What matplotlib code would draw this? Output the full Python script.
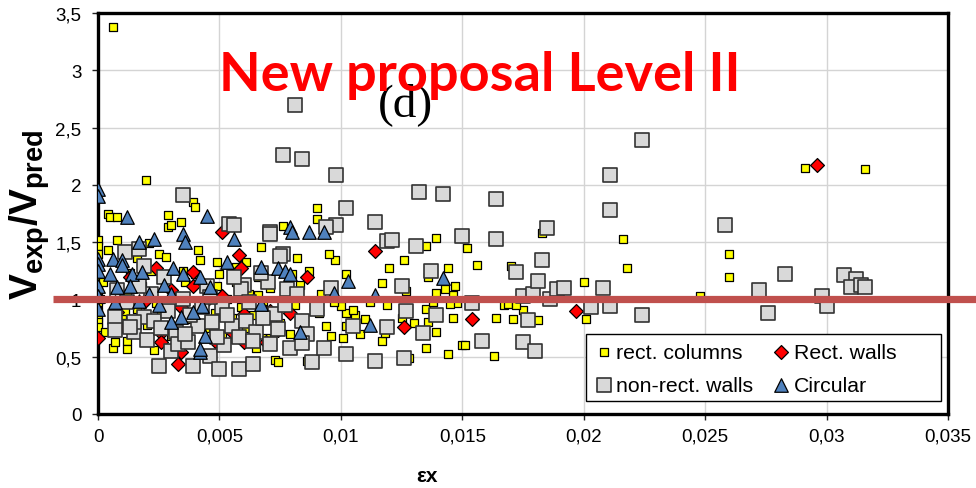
import matplotlib
matplotlib.use("Agg")
import matplotlib.pyplot as plt
from matplotlib.patches import Rectangle
from matplotlib.ticker import FuncFormatter

plt.rcParams['font.family'] = ['Liberation Sans', 'DejaVu Sans']
plt.rcParams['mathtext.fontset'] = 'custom'
plt.rcParams['mathtext.rm'] = 'Liberation Sans'
plt.rcParams['mathtext.bf'] = 'Liberation Sans:bold'

# ---- data: strain ex and ratio Vexp/Vpred per specimen type ----
rect_columns_x = [
    0.00062, 0.00198, 0.0291, 0.0316, 0.0216, 0.0218, 0.0260, 0.0260, 0.0248,
    0.0200, 0.0201, 0.0183, 0.0181, 0.0170, 0.0171, 0.0175, 0.0167, 0.0169, 0.0172, 0.0164, 0.0163,
    0.0156, 0.0152, 0.0150, 0.0151, 0.0146, 0.0144, 0.0144, 0.0147, 0.0146, 0.0148, 0.0145, 0.0143,
    0.0139, 0.0135, 0.0136, 0.0139, 0.0135, 0.0136, 0.0139, 0.0135, 0.0138, 0.0126, 0.0120, 0.0117,
    0.0127, 0.0119, 0.0125, 0.0130, 0.0128, 0.0117, 0.0118, 0.0112, 0.0110, 0.0108, 0.0102, 0.0102,
    0.0106, 0.0105, 0.0102, 0.0101, 0.0100, 0.00975, 0.0096,
    0.0090, 0.0090, 0.0076, 0.0082, 0.0039, 0.0040, 0.0034, 0.0041, 0.0042, 0.0049, 0.0067, 0.0061,
    0.0004, 0.0005, 0.0008, 0.0029, 0.0029, 0.0030, 0.0, 0.0, 0.0008, 0.0004, 0.0021, 0.0025, 0.0028, 0.0016,
    0.0, 0.0, 0.0, 0.0, 0.0, 0.0, 0.0, 0.0, 0.0, 0.0003, 0.0002, 0.0001,
    0.0006, 0.0007, 0.0010, 0.0012, 0.0013, 0.0016, 0.0018, 0.0020, 0.0022, 0.0024, 0.0026, 0.0028,
    0.0030, 0.0032, 0.0034, 0.0036, 0.0038, 0.0040, 0.0042, 0.0044, 0.0046, 0.0048, 0.0050, 0.0051,
    0.0053, 0.0055, 0.0057, 0.0059, 0.0061, 0.0062, 0.0064, 0.0066, 0.0068, 0.0069, 0.0071, 0.0073,
    0.0075, 0.0077, 0.0079, 0.0081, 0.0083, 0.0085, 0.0086, 0.0087, 0.0089, 0.0091, 0.0092, 0.0094,
    0.0095, 0.0097, 0.0073, 0.0065, 0.0044, 0.0023, 0.0011, 0.0015, 0.0057, 0.0035, 0.0049, 0.0080,
    0.0066, 0.0012, 0.0012, 0.0074,
]
rect_columns_y = [
    3.38, 2.04, 2.15, 2.14, 1.53, 1.27, 1.40, 1.20, 1.03,
    1.15, 0.83, 1.58, 0.82, 1.29, 0.83, 0.91, 0.95, 0.96, 0.95, 0.84, 0.51,
    1.30, 1.45, 0.60, 0.60, 0.84, 0.52, 1.27, 1.12, 1.04, 0.97, 0.96, 1.09,
    1.54, 1.47, 1.20, 1.06, 0.92, 0.80, 0.72, 0.58, 0.98, 1.34, 1.27, 1.14,
    1.07, 0.95, 0.84, 0.79, 0.49, 0.64, 0.71, 0.98, 0.83, 0.70, 1.22, 0.88,
    0.86, 0.91, 0.77, 0.66, 0.94, 1.34, 0.68,
    1.80, 1.70, 1.64, 1.36, 1.85, 1.81, 1.68, 1.43, 1.34, 1.33, 1.46, 1.33,
    1.75, 1.72, 1.72, 1.74, 1.63, 1.65, 1.52, 1.47, 1.52, 1.43, 1.49, 1.40, 1.37, 1.36,
    1.40, 1.30, 1.20, 1.08, 0.98, 0.90, 0.84, 0.80, 0.76, 0.72, 1.15, 1.00,
    0.58, 0.63, 0.86, 1.05, 1.23, 0.92, 1.12, 0.78, 1.25, 0.97, 0.88, 1.18,
    0.68, 1.03, 0.60, 1.15, 0.83, 1.22, 0.95, 0.75, 1.08, 0.88, 1.22, 0.69,
    1.00, 0.84, 1.15, 0.93, 0.75, 1.05, 0.86, 1.20, 0.97, 0.66, 1.10, 0.90,
    0.79, 1.02, 0.70, 0.95, 1.13, 0.84, 0.46, 1.25, 0.92, 0.88, 1.05, 0.77,
    1.40, 0.98, 0.47, 0.58, 0.52, 0.56, 0.90, 0.74, 1.28, 1.25, 1.12, 1.22,
    1.04, 0.64, 0.57, 0.45,
]

non_rect_walls_x = [
    0.0081, 0.0076, 0.0084, 0.0098, 0.0102, 0.0132, 0.0142, 0.0164, 0.0211, 0.0224, 0.0211, 0.0258,
    0.0283, 0.0272, 0.0298, 0.0307, 0.0312, 0.0310, 0.0314, 0.0316, 0.0208, 0.0211, 0.0224, 0.0276, 0.0300,
    0.0098, 0.0114, 0.0119, 0.0121, 0.0131, 0.0137, 0.0125, 0.0127, 0.0139, 0.0134, 0.0119, 0.0105,
    0.0102, 0.0114, 0.0126, 0.0150, 0.0164, 0.0154, 0.0158, 0.0172, 0.0175, 0.0180, 0.0177, 0.0175,
    0.0179, 0.0181, 0.0183, 0.0185, 0.0186, 0.0189, 0.0192, 0.0203,
    0.0007, 0.0007, 0.0011, 0.0017, 0.0019, 0.0019, 0.0015, 0.0020, 0.0023, 0.0027, 0.0025, 0.0030,
    0.0032, 0.0033, 0.0037, 0.0039, 0.0041, 0.0046, 0.0050, 0.0052, 0.0049, 0.0054, 0.0056, 0.0060,
    0.0059, 0.0051, 0.0055, 0.0058, 0.0061, 0.0065, 0.0064, 0.0058, 0.0064, 0.0071, 0.0076, 0.0078,
    0.0073, 0.0071, 0.0079, 0.0084, 0.0088, 0.0035, 0.0056, 0.0094, 0.0071, 0.0075,
    0.0008, 0.0012, 0.0015, 0.0022, 0.0026, 0.0029, 0.0035, 0.0038, 0.0043, 0.0045, 0.0047, 0.0053,
    0.0062, 0.0068, 0.0070, 0.0074, 0.0077, 0.0082, 0.0086, 0.0090, 0.0093, 0.0096, 0.0036, 0.0013,
    0.0017, 0.0046, 0.0067, 0.0084,
]
non_rect_walls_y = [
    2.70, 2.26, 2.23, 2.09, 1.80, 1.94, 1.92, 1.88, 2.09, 2.39, 1.78, 1.65,
    1.22, 1.08, 1.03, 1.21, 1.18, 1.11, 1.13, 1.11, 1.10, 0.94, 0.86, 0.88, 0.94,
    1.65, 1.68, 1.51, 1.52, 1.47, 1.25, 1.12, 0.90, 0.86, 0.71, 0.76, 0.77,
    0.52, 0.46, 0.49, 1.55, 1.53, 0.97, 0.64, 1.24, 0.63, 0.55, 0.82, 1.03,
    1.05, 1.16, 1.34, 1.62, 1.00, 1.09, 1.10, 0.93,
    0.85, 0.73, 1.41, 1.44, 1.29, 0.85, 0.72, 0.65, 0.81, 1.20, 0.42, 0.55,
    0.72, 0.61, 0.63, 0.42, 0.77, 0.51, 0.39, 0.60, 0.67, 1.66, 1.65, 1.13,
    1.09, 0.93, 0.77, 0.67, 0.81, 0.72, 0.64, 0.39, 0.44, 1.59, 1.40, 1.09,
    0.87, 0.61, 0.58, 0.81, 0.45, 1.91, 1.20, 1.63, 1.57, 1.38,
    1.08, 0.98, 0.80, 1.05, 0.75, 0.90, 1.00, 0.86, 0.93, 1.12, 0.80, 0.86,
    0.98, 0.84, 1.15, 0.74, 0.95, 1.05, 0.70, 0.92, 0.58, 1.10, 0.70, 0.76,
    1.12, 1.02, 1.23, 0.62,
]

rect_walls_x = [
    0.0296, 0.0114, 0.0126, 0.0154, 0.0197,
    0.0, 0.0051, 0.0058, 0.0059, 0.0039, 0.0039, 0.0024, 0.0033, 0.0086, 0.0079, 0.0060, 0.0051,
    0.0030, 0.0026, 0.0026, 0.0034, 0.0034, 0.0048, 0.0060, 0.0069, 0.0074, 0.0069, 0.0083, 0.0009,
    0.0008, 0.0019, 0.0071, 0.0044, 0.0055, 0.0013,
]
rect_walls_y = [
    2.17, 1.42, 0.76, 0.83, 0.90,
    0.66, 1.59, 1.39, 1.27, 1.24, 1.12, 1.27, 0.44, 1.20, 0.88, 0.87, 1.03,
    1.08, 0.71, 0.63, 0.93, 0.54, 0.64, 0.63, 0.89, 0.73, 0.63, 0.64, 0.76,
    0.89, 0.98, 0.90, 0.98, 0.72, 1.20,
]

circular_x = [
    0.0, 0.0, 0.0012, 0.0045, 0.0035, 0.0036, 0.0023, 0.0056, 0.0017, 0.0079, 0.0080, 0.0087, 0.0093,
    0.0, 0.0, 0.0, 0.0, 0.0, 0.0, 0.0006, 0.0010, 0.0010, 0.0014, 0.0018, 0.0031, 0.0035, 0.0042,
    0.0046, 0.0053, 0.0067, 0.0074, 0.0077, 0.0079, 0.0027, 0.0008, 0.0013, 0.0017, 0.0030, 0.0043,
    0.0039, 0.0034, 0.0030, 0.0044, 0.0042, 0.0067, 0.0083, 0.0007, 0.0103, 0.0097, 0.0114, 0.0112,
    0.0142, 0.0042, 0.0021, 0.0005, 0.0025,
]
circular_y = [
    1.96, 1.90, 1.72, 1.73, 1.57, 1.50, 1.53, 1.53, 1.50, 1.63, 1.59, 1.59, 1.59,
    1.35, 1.31, 1.25, 1.12, 1.03, 0.92, 1.35, 1.34, 1.30, 1.22, 1.24, 1.27, 1.22, 1.20,
    1.11, 1.33, 1.28, 1.27, 1.25, 1.22, 1.13, 1.11, 1.12, 0.99, 1.05, 0.94,
    0.89, 0.85, 0.80, 0.68, 0.54, 0.96, 0.72, 0.98, 1.16, 1.06, 1.04, 0.78,
    1.19, 0.57, 1.05, 1.22, 0.95,
]

x_ticks = [0, 0.005, 0.01, 0.015, 0.02, 0.025, 0.03, 0.035]
y_ticks = [0, 0.5, 1, 1.5, 2, 2.5, 3, 3.5]
reference_ratio = 1.0

# ---- figure ----
W, H = 976, 489
fig = plt.figure(figsize=(W / 100, H / 100), dpi=100)
ax = fig.add_axes([98 / W, 74 / H, 850 / W, 401 / H])

ax.set_xlim(0, 0.035)
ax.set_ylim(0, 3.5)
ax.set_xticks(x_ticks)
ax.set_yticks(y_ticks)
comma = FuncFormatter(lambda v, p: f"{v:g}".replace('.', ','))
ax.xaxis.set_major_formatter(comma)
ax.yaxis.set_major_formatter(comma)
ax.tick_params(axis='both', labelsize=13.5, length=4, width=1, direction='out', colors='#222222',
               labelcolor='black')
ax.tick_params(axis='x', pad=6)
ax.tick_params(axis='y', pad=8)
ax.grid(True, color='#D4D4D4', linewidth=1.0)
ax.set_axisbelow(True)
for s in ax.spines.values():
    s.set_linewidth(2.4)
    s.set_color('black')

ax.scatter(rect_columns_x, rect_columns_y, marker='s', s=26, c='#FFFF00',
           edgecolors='black', linewidths=0.9, zorder=3, label='rect. columns')
ax.scatter(rect_walls_x, rect_walls_y, marker='D', s=50, c='#FF0000',
           edgecolors='black', linewidths=0.9, zorder=4, label='Rect. walls')
ax.scatter(non_rect_walls_x, non_rect_walls_y, marker='s', s=92, c='#D9D9D9',
           edgecolors='#333333', linewidths=1.2, zorder=5, label='non-rect. walls')
ax.scatter(circular_x, circular_y, marker='^', s=95, c='#4F81BD',
           edgecolors='black', linewidths=0.9, zorder=6, label='Circular')

# reference line at Vexp/Vpred = 1, running past the plot frame
ax.plot([-0.00185, 0.0380], [reference_ratio, reference_ratio], color='#C0504D',
        linewidth=5.2, solid_capstyle='butt', clip_on=False, zorder=7)

# legend box, wider than its entries
ax.add_patch(Rectangle((586 / W, 1 - 402 / H), 355 / W, 67 / H, transform=fig.transFigure,
                       facecolor='white', edgecolor='black', linewidth=1.0,
                       clip_on=False, zorder=9))
handles, labels = ax.get_legend_handles_labels()
order = [0, 2, 1, 3]
leg = ax.legend([handles[i] for i in order], [labels[i] for i in order], ncol=2,
                loc='upper left', bbox_to_anchor=(593 / W, 1 - 344 / H),
                bbox_transform=fig.transFigure, fontsize=15.3, frameon=False,
                borderpad=0, handletextpad=0.1, columnspacing=0.8, handlelength=1.0,
                labelspacing=0.66, borderaxespad=0)
leg.set_zorder(10)

ax.set_ylabel(r'$\mathbf{V_{exp}/V_{pred}}$', fontsize=28)
ax.yaxis.set_label_coords(-0.054, 0.5)
fig.text(427 / W, 1 - 477 / H, 'εx', fontsize=15, fontweight='bold',
         ha='center', va='center')

fig.text(405 / W, 1 - 105 / H, '(d)', family='Liberation Serif', fontsize=34,
         ha='center', va='center', color='black', zorder=8)
fig.text(480 / W, 1 - 75 / H, 'New proposal Level II', family='Lato', fontweight='bold',
         fontsize=39, ha='center', va='center', color='#FF0000', zorder=9)

fig.savefig('out.png', dpi=100)
